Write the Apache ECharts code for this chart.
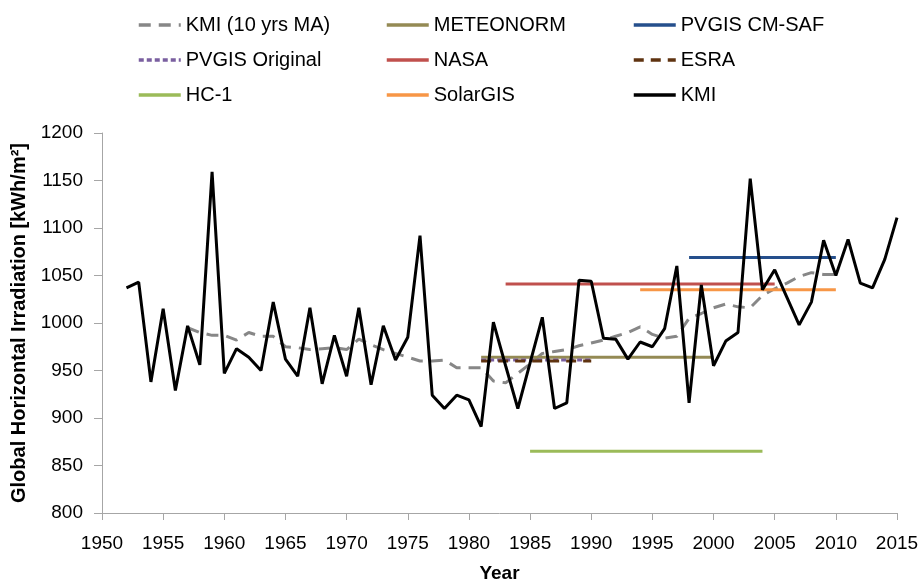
<!DOCTYPE html>
<html>
<head>
<meta charset="utf-8">
<script src="https://cdn.jsdelivr.net/npm/echarts@6/dist/echarts.min.js"></script>
<style>
html,body{margin:0;padding:0;background:#fff;}
#chart{width:920px;height:583px;}
</style>
</head>
<body>
<div id="chart"></div>
<script>
// ---- Data ----
const kmiYears = [1952,1953,1954,1955,1956,1957,1958,1959,1960,1961,1962,1963,1964,1965,1966,1967,1968,1969,1970,1971,1972,1973,1974,1975,1976,1977,1978,1979,1980,1981,1982,1983,1984,1985,1986,1987,1988,1989,1990,1991,1992,1993,1994,1995,1996,1997,1998,1999,2000,2001,2002,2003,2004,2005,2006,2007,2008,2009,2010,2011,2012,2013,2014,2015];
const kmiValues = [1037,1043,938,1015,929,997,956,1159,947,973,964,950,1022,962,944,1016,936,987,944,1016,935,997,961,985,1092,924,910,924,919,891,1001,955,910,958,1006,910,916,1045,1044,984,983,962,980,975,994,1060,916,1040,955,981,990,1152,1035,1056,1027,998,1022,1087,1050,1088,1042,1037,1067,1111];

const maYears = [1957,1958,1959,1960,1961,1962,1963,1964,1965,1966,1967,1968,1969,1970,1971,1972,1973,1974,1975,1976,1977,1978,1979,1980,1981,1982,1983,1984,1985,1986,1987,1988,1989,1990,1991,1992,1993,1994,1995,1996,1997,1998,1999,2000,2001,2002,2003,2004,2005,2006,2007,2008,2009,2010];
const maValues = [995,990,987,987,982,990,986,986,975,974,972,973,974,972,983,977,972,968,964,960,960,961,953,953,953,939,937,947,957,968,970,972,976,979,982,986,990,996,988,984,986,1005,1010,1016,1020,1017,1016,1029,1036,1042,1049,1053,1051,1051];

// Dataset period averages: [startYear, endYear, value]
const meteonorm    = [1981, 2000, 964];
const pvgisCmSaf   = [1998, 2010, 1069];
const pvgisOrig    = [1981, 1990, 961];
const nasa         = [1983, 2005, 1041];
const esra         = [1981, 1990, 960];
const hc1          = [1985, 2004, 865];
const solarGis     = [1994, 2010, 1035];

const xTicks = {min: 1950, max: 2015, step: 5};
const yTicks = {min: 800, max: 1200, step: 50};

// ---- Build ----
const pairs = (xs, ys) => xs.map((x, i) => [x, ys[i]]);
const seg = (d) => [[d[0], d[2]], [d[1], d[2]]];

function lineSeries(name, data, color, type, width) {
  return {
    name: name, type: 'line', data: data, symbol: 'none', showSymbol: false,
    animation: false, silent: true,
    lineStyle: {color: color, width: width || 3, type: type || 'solid'},
    itemStyle: {color: color},
    emphasis: {disabled: true}
  };
}

const FONT = "'Liberation Sans', Arial, sans-serif";

const series = [
  lineSeries('KMI (10 yrs MA)', pairs(maYears, maValues), '#878787', [12, 8], 3),
  lineSeries('METEONORM', seg(meteonorm), '#948a54', 'solid', 3),
  lineSeries('PVGIS CM-SAF', seg(pvgisCmSaf), '#254f8c', 'solid', 3),
  lineSeries('PVGIS Original', seg(pvgisOrig), '#7a5fa0', [5, 3], 3),
  lineSeries('NASA', seg(nasa), '#c0504d', 'solid', 3),
  lineSeries('ESRA', seg(esra), '#5f3310', [10, 7], 3),
  lineSeries('HC-1', seg(hc1), '#9bbb59', 'solid', 3),
  lineSeries('SolarGIS', seg(solarGis), '#f79646', 'solid', 3),
  lineSeries('KMI', pairs(kmiYears, kmiValues), '#000000', 'solid', 3)
];

function legendCol(left, names) {
  return {
    orient: 'vertical', left: left, top: 15, padding: 0,
    itemWidth: 42, itemHeight: 14, itemGap: 15,
    selectedMode: false,
    itemStyle: {opacity: 0},
    lineStyle: {width: 3.5},
    textStyle: {fontFamily: FONT, fontSize: 20, color: '#000', lineHeight: 20},
    data: names
  };
}

const chart = echarts.init(document.getElementById('chart'), null, {renderer: 'canvas'});
chart.setOption({
  animation: false,
  backgroundColor: '#fff',
  legend: [
    legendCol(137, ['KMI (10 yrs MA)', 'PVGIS Original', 'HC-1']),
    legendCol(385, ['METEONORM', 'NASA', 'SolarGIS']),
    legendCol(632, ['PVGIS CM-SAF', 'ESRA', 'KMI'])
  ],
  grid: {left: 102, right: 23, top: 133, bottom: 70, containLabel: false, outerBoundsMode: 'none'},
  xAxis: {
    type: 'value', min: xTicks.min, max: xTicks.max, interval: xTicks.step,
    name: 'Year', nameLocation: 'middle', nameGap: 51,
    nameTextStyle: {fontFamily: FONT, fontSize: 19, fontWeight: 'bold', color: '#000'},
    axisLine: {lineStyle: {color: '#a6a6a6', width: 1}},
    axisTick: {show: true, inside: false, length: 7, lineStyle: {color: '#a6a6a6'}},
    axisLabel: {fontFamily: FONT, fontSize: 19, color: '#000', margin: 21, showMinLabel: true, showMaxLabel: true,
      formatter: (v) => String(v)},
    splitLine: {show: false}
  },
  yAxis: {
    type: 'value', min: yTicks.min, max: yTicks.max, interval: yTicks.step,
    name: 'Global Horizontal Irradiation [kWh/m²]', nameLocation: 'middle', nameGap: 73,
    nameTextStyle: {fontFamily: FONT, fontSize: 20, fontWeight: 'bold', color: '#000'},
    axisLine: {show: true, lineStyle: {color: '#a6a6a6', width: 1}},
    axisTick: {show: true, inside: false, length: 8, lineStyle: {color: '#a6a6a6'}},
    axisLabel: {fontFamily: FONT, fontSize: 19, color: '#000', margin: 19,
      formatter: (v) => String(v)},
    splitLine: {show: false}
  },
  series: series
});
</script>
</body>
</html>
